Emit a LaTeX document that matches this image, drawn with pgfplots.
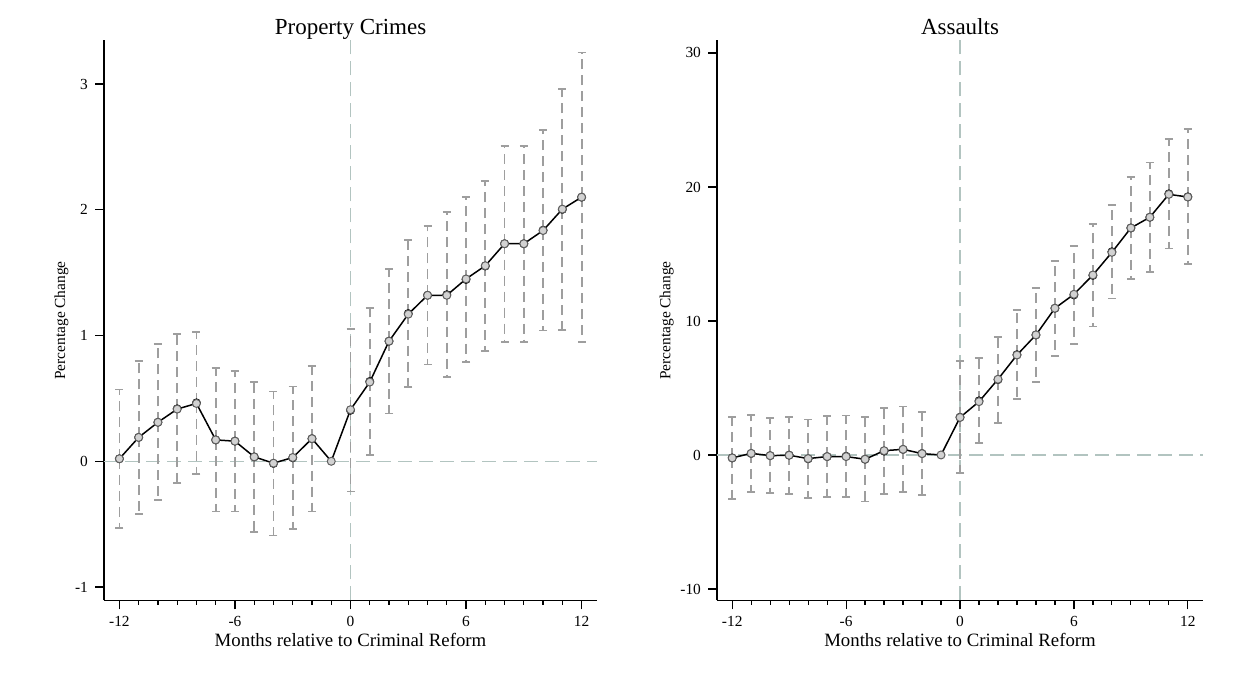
\documentclass[border=0pt]{standalone}
\usepackage{fontspec}
\setmainfont{Liberation Serif}
\usepackage{pgfplots}
\usepackage{pgfplotstable}
\pgfplotsset{compat=1.18}
\definecolor{cigray}{RGB}{158,158,158}
\definecolor{refc}{RGB}{178,196,192}
\definecolor{mkgray}{RGB}{95,95,95}

\pgfplotstableread{
x y
-12 0.02
-11 0.19
-10 0.31
-9 0.415
-8 0.46
-7 0.17
-6 0.16
-5 0.035
-4 -0.015
-3 0.03
-2 0.18
-1 0
0 0.41
1 0.63
2 0.955
3 1.17
4 1.32
5 1.32
6 1.45
7 1.555
8 1.73
9 1.73
10 1.835
11 2.005
12 2.10
}\propline

\pgfplotstableread{
x lo hi
-12 -0.53 0.57
-11 -0.42 0.80
-10 -0.31 0.93
-9 -0.175 1.01
-8 -0.10 1.03
-7 -0.40 0.74
-6 -0.40 0.72
-5 -0.56 0.63
-4 -0.59 0.555
-3 -0.54 0.595
-2 -0.40 0.76
0 -0.24 1.05
1 0.05 1.22
2 0.38 1.53
3 0.59 1.76
4 0.77 1.87
5 0.67 1.98
6 0.79 2.10
7 0.875 2.23
8 0.95 2.51
9 0.95 2.51
10 1.04 2.635
11 1.045 2.96
12 0.95 3.25
}\propci

\pgfplotstableread{
x y
-12 -0.22
-11 0.12
-10 -0.05
-9 -0.02
-8 -0.27
-7 -0.12
-6 -0.12
-5 -0.32
-4 0.32
-3 0.42
-2 0.10
-1 0
0 2.80
1 3.98
2 5.65
3 7.46
4 8.96
5 10.95
6 11.99
7 13.43
8 15.12
9 16.94
10 17.74
11 19.45
12 19.25
}\assline

\pgfplotstableread{
x lo hi
-12 -3.28 2.84
-11 -2.74 2.96
-10 -2.84 2.74
-9 -2.89 2.86
-8 -3.21 2.64
-7 -3.13 2.89
-6 -3.13 2.94
-5 -3.48 2.84
-4 -2.94 3.51
-3 -2.79 3.61
-2 -3.01 3.23
0 -1.37 7.00
1 0.87 7.21
2 2.41 8.83
3 4.15 10.82
4 5.47 12.44
5 7.39 14.50
6 8.26 15.62
7 9.58 17.21
8 11.67 18.66
9 13.16 20.72
10 13.66 21.82
11 15.40 23.58
12 14.23 24.30
}\assci

\pgfplotsset{
  evstyle/.style={
    scale only axis,
    height=280pt,
    xmin=-12.8, xmax=12.8,
    axis x line*=bottom, axis y line*=left,
    axis line style={-, line width=0.7pt, black},
    xtick={-12,-6,0,6,12}, minor x tick num=5,
    tick align=outside, major tick length=4.5pt, minor tick length=2.2pt,
    tick style={black, line width=0.6pt},
    /pgf/number format/assume math mode=true,
    ticklabel style={font=\fontsize{7.7}{9}\selectfont},
    xlabel={Months relative to Criminal Reform},
    ylabel={Percentage Change},
    xlabel style={font=\fontsize{9.4}{11}\selectfont, at={(axis description cs:0.5,0)}, anchor=base, yshift=-23pt},
    ylabel style={font=\fontsize{7.7}{9}\selectfont},
    ylabel shift=-3.5pt,
    title style={font=\fontsize{11.5}{13}\selectfont, at={(axis description cs:0.5,1)}, anchor=base, yshift=-3.25pt, inner sep=0pt},
    clip=false,
  },
  refline/.style={refc, line width=0.7pt, dash pattern=on 7pt off 3.5pt, forget plot},
  ciplot/.style={only marks, mark=none, forget plot,
    error bars/.cd, y dir=both, y explicit, error mark=|,
    error bar style={cigray, line width=0.9pt, dash pattern=on 5pt off 3pt},
    error mark options={cigray, solid, line width=0.9pt, mark size=2pt}},
  mainline/.style={black, line width=0.75pt, mark=*, mark size=2pt,
    mark options={draw=mkgray, fill=gray!35, line width=0.5pt, solid}},
}

\begin{document}
\begin{tikzpicture}
\useasboundingbox (0,0) rectangle (620.5pt,344.5pt);
\begin{axis}[evstyle, at={(52pt,44.25pt)}, anchor=south west, width=246.5pt,
  ymin=-1.107, ymax=3.346, ytick={-1,0,1,2,3},
  title={Property Crimes}]
\addplot[refline] coordinates {(-12.8,0) (12.8,0)};
\addplot[refline] coordinates {(0,-1.107) (0,3.346)};
\addplot[ciplot] table[x=x, y expr=(\thisrow{lo}+\thisrow{hi})/2, y error expr=(\thisrow{hi}-\thisrow{lo})/2] {\propci};
\addplot[mainline] table[x=x, y=y] {\propline};
\end{axis}
\begin{axis}[evstyle, at={(358.5pt,44.25pt)}, anchor=south west, width=243pt,
  ymin=-10.86, ymax=30.93, ytick={-10,0,10,20,30},
  title={Assaults}]
\addplot[refline] coordinates {(-12.8,0) (12.8,0)};
\addplot[refline] coordinates {(0,-10.86) (0,30.93)};
\addplot[ciplot] table[x=x, y expr=(\thisrow{lo}+\thisrow{hi})/2, y error expr=(\thisrow{hi}-\thisrow{lo})/2] {\assci};
\addplot[mainline] table[x=x, y=y] {\assline};
\end{axis}
\end{tikzpicture}
\end{document}
